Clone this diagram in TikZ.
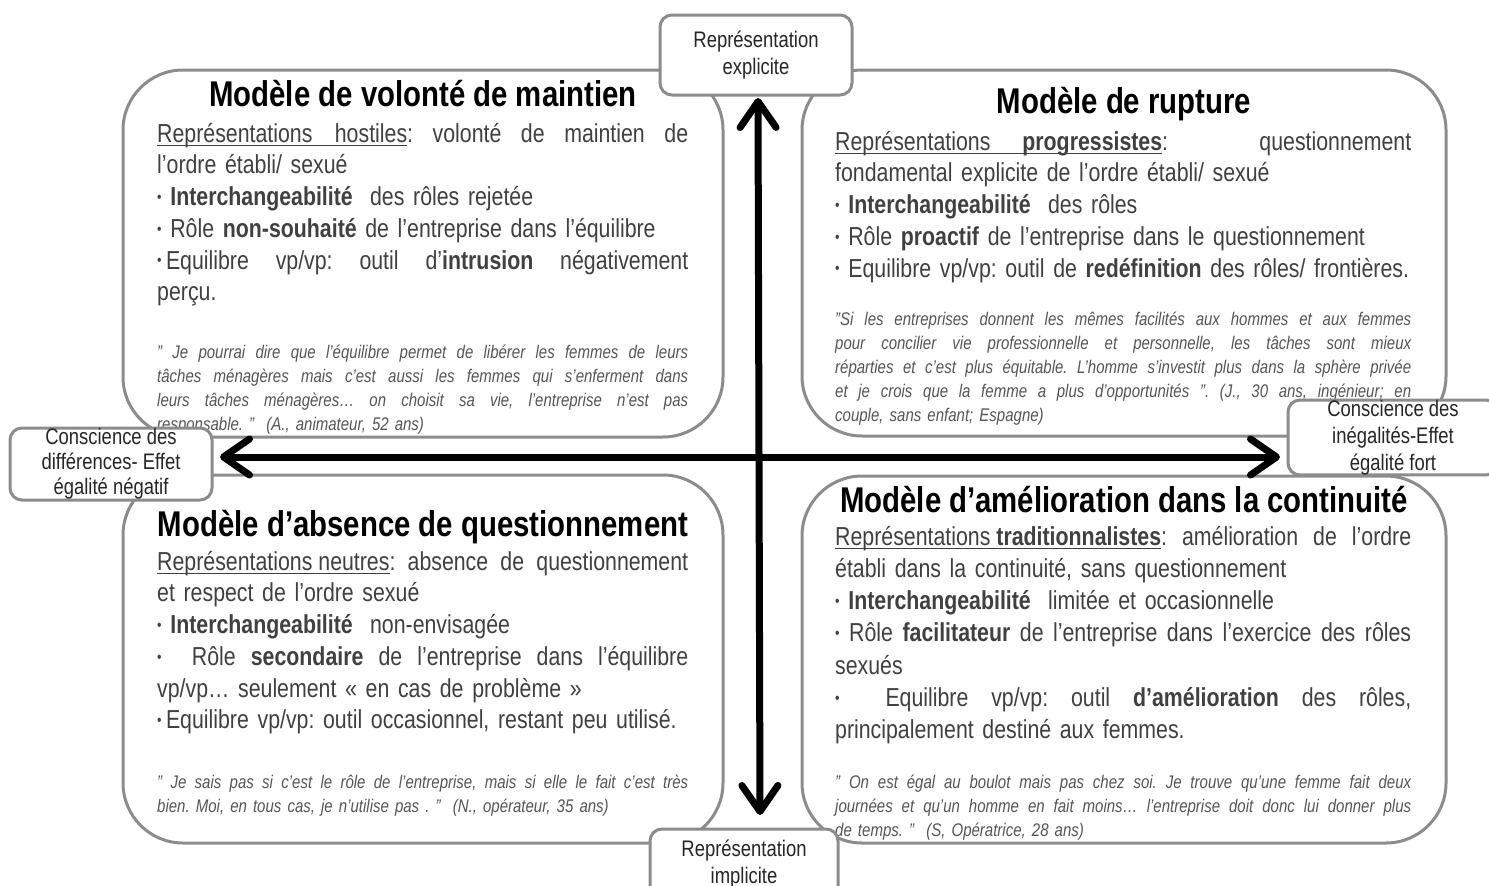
\documentclass[tikz,border=0pt]{standalone}
\usepackage{fontspec}
\usepackage{graphicx}
\setmainfont{Liberation Sans}[FakeStretch=0.82]
\usetikzlibrary{arrows.meta}
\setlength\parindent{0pt}
\setlength\parskip{0pt}
\frenchspacing
\definecolor{bordergray}{HTML}{8C8C8C}
\definecolor{bodygray}{HTML}{404040}
\definecolor{quotegray}{HTML}{555555}
\newcommand\Jw[2]{{\spaceskip=0.23em plus 1fil\xspaceskip=\spaceskip\makebox[#1][s]{#2}}}
\newcommand\J[1]{\Jw{\hsize}{#1}}
\newcommand\Ln[1]{\makebox[\hsize][l]{#1}}
\newcommand\ulx[1]{\setbox0\hbox{#1}\rlap{\rule[-3.5pt]{\wd0}{1.2pt}}\box0}
\newcommand\bul{\raisebox{0.12em}{\scalebox{0.6}{•}}}
\tikzset{
  quad/.style={draw=bordergray, line width=3pt, rounded corners=60pt, fill=white, inner sep=0pt},
  ttl/.style={anchor=base, inner sep=0pt, font=\fontsize{35.8}{40}\selectfont\bfseries, text=black},
  body/.style={anchor=north west, inner sep=0pt, text width=#1, align=left,
    font=\fontsize{26}{31.7}\selectfont, text=bodygray},
  quote/.style={anchor=north west, inner sep=0pt, text width=#1, align=left,
    font=\fontsize{18.3}{24}\selectfont\itshape, text=quotegray},
  lbl/.style={draw=bordergray, line width=3pt, rounded corners=12pt, fill=white,
    inner sep=0pt, align=center, font=\fontsize{22.5}{27}\selectfont, text=black!85},
  bigarrow/.style={line width=7pt, {Straight Barb[round,length=26pt,width=36pt]}-{Straight Barb[round,length=26pt,width=36pt]}}
}
\begin{document}
\begin{tikzpicture}[x=1pt,y=-1pt]
\useasboundingbox (0,0) rectangle (1489,886);
\fill[white] (0,0) rectangle (1489,886);
% quadrants
\node[quad, minimum width=600pt, minimum height=367pt] (tl) at (423,253.5) {};
\node[quad, minimum width=644pt, minimum height=366pt] (tr) at (1124,253) {};
\node[quad, minimum width=600pt, minimum height=368pt] (bl) at (423,659) {};
\node[quad, minimum width=644pt, minimum height=367pt] (br) at (1124,659.5) {};
% titles
\node[ttl] (tlT) at (423,106) {Modèle de volonté de maintien};
\node[ttl] (trT) at (1124,113) {Modèle de rupture};
\node[ttl] (blT) at (423,536) {Modèle d'absence de questionnement};
\node[ttl] (brT) at (1124,512) {Modèle d'amélioration dans la continuité};
% bodies
\node[body=531pt] (tlB) at (157,122) {\rule{0pt}{20pt}\J{\ulx{\Jw{250pt}{Représentations hostiles}}: volonté de maintien de}\\
\Ln{l'ordre établi/ sexué}\\
\Ln{\bul\ \textbf{Interchangeabilité}\ \ des rôles rejetée}\\
\Ln{\bul\ Rôle \textbf{non-souhaité} de l'entreprise dans l'équilibre}\\
\J{\bul\,Equilibre vp/vp: outil d'\textbf{intrusion} négativement}\\
\Ln{perçu.}};
\node[body=576pt] (trB) at (835,130) {\rule{0pt}{20pt}\J{\ulx{\Jw{327pt}{Représentations \textbf{progressistes}}}: questionnement}\\
\Ln{fondamental explicite de l'ordre établi/ sexué}\\
\Ln{\bul\ \textbf{Interchangeabilité}\ \ des rôles}\\
\Ln{\bul\ Rôle \textbf{proactif} de l'entreprise dans le questionnement}\\
\Ln{\bul\ Equilibre vp/vp: outil de \textbf{redéfinition}\ des rôles/ frontières.}};
\node[body=531pt] (blB) at (157,550) {\rule{0pt}{20pt}\J{\ulx{Représentations neutres}: absence de questionnement}\\
\Ln{et respect de l'ordre sexué}\\
\Ln{\bul\ \textbf{Interchangeabilité}\ \ non-envisagée}\\
\J{\bul\ \ Rôle \textbf{secondaire} de l'entreprise dans l'équilibre}\\
\Ln{vp/vp… seulement « en cas de problème »}\\
\Ln{\bul\,Equilibre vp/vp: outil occasionnel,\ restant peu utilisé.}};
\node[body=576pt, font=\fontsize{26}{32.2}\selectfont] (brB) at (835,525) {\rule{0pt}{20pt}\J{\ulx{Représentations \textbf{traditionnalistes}}: amélioration de l'ordre}\\
\Ln{établi dans la continuité, sans questionnement}\\
\Ln{\bul\ \textbf{Interchangeabilité}\ \ limitée et occasionnelle}\\
\J{\bul\ Rôle \textbf{facilitateur} de l'entreprise dans l'exercice des rôles}\\
\Ln{sexués}\\
\J{\bul\ \ Equilibre vp/vp: outil \textbf{d'amélioration} des rôles,}\\
\Ln{principalement destiné aux femmes.}};
% quotes
\node[quote=531pt] (tlQ) at (157,344) {\rule{0pt}{14pt}\J{" Je pourrai dire que l'équilibre permet de libérer les femmes de leurs}\\
\J{tâches ménagères mais c'est aussi les femmes qui s'enferment dans}\\
\J{leurs tâches ménagères… on choisit sa vie, l'entreprise n'est pas}\\
\Ln{responsable. "\ \ (A., animateur, 52 ans)}};
\node[quote=576pt] (trQ) at (835,311) {\rule{0pt}{14pt}\J{"Si les entreprises donnent les mêmes facilités aux hommes et aux femmes}\\
\J{pour concilier vie professionnelle et personnelle, les tâches sont mieux}\\
\J{réparties et c'est plus équitable. L'homme s'investit plus dans la sphère privée}\\
\J{et je crois que la femme a plus d'opportunités ". (J., 30 ans, ingénieur; en}\\
\Ln{couple, sans enfant; Espagne)}};
\node[quote=531pt] (blQ) at (157,774) {\rule{0pt}{14pt}\J{" Je sais pas si c'est le rôle de l'entreprise, mais si elle le fait c'est très}\\
\Ln{bien. Moi, en tous cas, je n'utilise pas . "\ \ (N., opérateur, 35 ans)}};
\node[quote=576pt] (brQ) at (835,774) {\rule{0pt}{14pt}\J{" On est égal au boulot mais pas chez soi. Je trouve qu'une femme fait deux}\\
\J{journées et qu'un homme en fait moins… l'entreprise doit donc lui donner plus}\\
\Ln{de temps. "\ \ (S, Opératrice, 28 ans)}};
% arrows
\coordinate (vt) at (758,98);
\coordinate (vb) at (760,815);
\coordinate (hl) at (220,457);
\coordinate (hr) at (1280,457);
\draw[bigarrow] (vt) -- (vb);
\draw[bigarrow] (hl) -- (hr);
% labels
\node[lbl, minimum width=192pt, minimum height=80pt] (lt) at (756,55) {Représentation\\explicite};
\node[lbl, minimum width=188pt, minimum height=70pt] (lb) at (744,864) {Représentation\\implicite};
\node[lbl, minimum width=202pt, minimum height=72pt, font=\fontsize{22.5}{25}\selectfont] (ll) at (111,464) {Conscience des\\différences- Effet\\égalité négatif};
\node[lbl, minimum width=210pt, minimum height=71pt] (lr) at (1393,437.5) {Conscience des\\inégalités-Effet\\égalité fort};
\end{tikzpicture}
\end{document}
